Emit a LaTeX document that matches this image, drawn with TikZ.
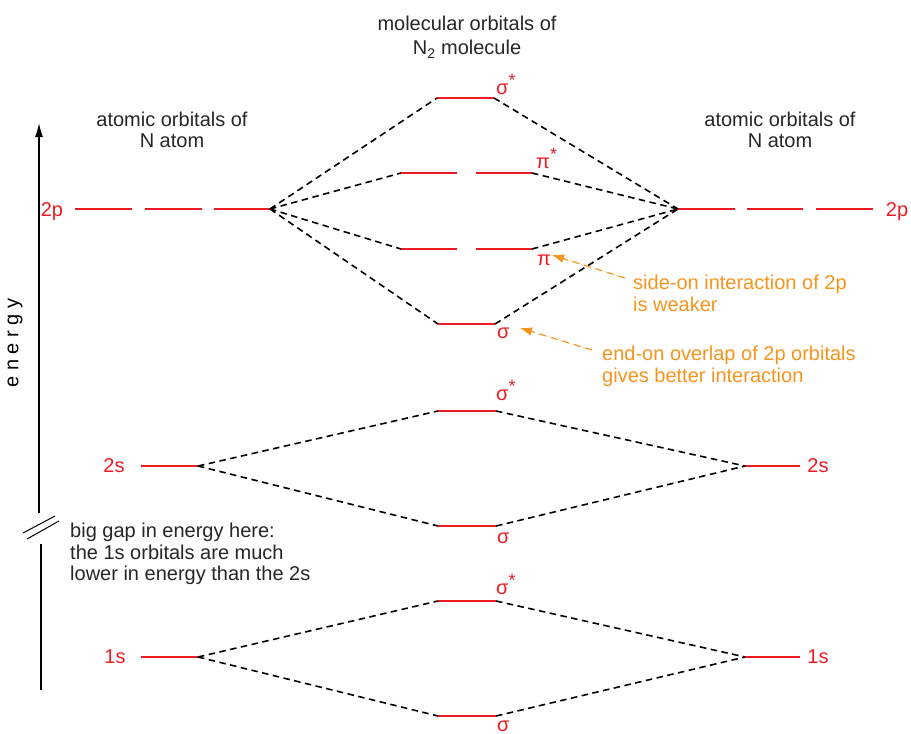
\documentclass[tikz,border=0pt]{standalone}
\usepackage{fontspec}
\setmainfont{Liberation Sans}
\usepackage{tikz}
\usetikzlibrary{arrows.meta}

\definecolor{orbred}{HTML}{ED1C24}
\definecolor{noteorange}{HTML}{F7941D}

\newcommand{\orbstar}{\raisebox{0.38em}{\fontsize{18}{18}\selectfont *}}

\begin{document}
\begin{tikzpicture}[
  x=1pt, y=-1pt,
  font=\fontsize{20}{21.5}\selectfont,
  level/.style={draw=orbred, line width=1.8pt},
  link/.style={draw=black, dash pattern=on 6.5pt off 4.5pt, line width=1.6pt},
  lbl/.style={text=orbred, inner sep=0pt},
  head/.style={align=center, inner sep=0pt, text=black!85},
  note/.style={text=noteorange, align=left, anchor=north west, inner sep=0pt},
  pointer/.style={-{Latex[length=12pt,width=9pt]}, draw=noteorange, fill=noteorange,
    dash pattern=on 7pt off 5pt, line width=1.2pt},
  axis/.style={draw=black, line width=1.3pt}
]
  \useasboundingbox (0,0) rectangle (911,734);

  % headings
  \node[head] (mohead) at (467,37) {molecular orbitals of\\[3pt] N\textsubscript{2} molecule};
  \node[head] (aoleft)  at (172,130) {atomic orbitals of\\N atom};
  \node[head] (aoright) at (780,130) {atomic orbitals of\\N atom};

  % energy axis
  \coordinate (axtop) at (39,123);
  \coordinate (axbrk) at (39,513);
  \coordinate (axlow) at (41,544);
  \coordinate (axbot) at (41,690);
  \draw[axis, -{Latex[length=14pt,width=8pt]}] (axbrk) -- (axtop);
  \draw[axis] (axlow) -- (axbot);
  \draw[axis, line width=1pt] (23,533) -- (55,516);
  \draw[axis, line width=1pt] (27,539) -- (59,521);
  \node[rotate=90, inner sep=0pt] (energy) at (15,343) {e n e r g y};

  % 2p atomic levels
  \coordinate (lp) at (270,209);
  \coordinate (rp) at (678,209);
  \draw[level] (75,209) -- (132,209);
  \draw[level] (145,209) -- (202,209);
  \draw[level] (214,209) -- (lp);
  \draw[level] (rp) -- (735,209);
  \draw[level] (747,209) -- (803,209);
  \draw[level] (816,209) -- (873,209);
  \node[lbl, anchor=base] (l2p) at (52,216) {2p};
  \node[lbl, anchor=base] (r2p) at (897,216) {2p};

  % 2p molecular levels
  \coordinate (ssL) at (437,98);  \coordinate (ssR) at (494,98);
  \coordinate (psL) at (401,173); \coordinate (psR) at (532,173);
  \coordinate (ppL) at (401,249); \coordinate (ppR) at (532,249);
  \coordinate (spL) at (438,324); \coordinate (spR) at (495,324);
  \draw[level] (ssL) -- (ssR);
  \draw[level] (psL) -- (457,173);
  \draw[level] (476,173) -- (psR);
  \draw[level] (ppL) -- (457,249);
  \draw[level] (476,249) -- (ppR);
  \draw[level] (spL) -- (spR);
  \node[lbl, anchor=base west] (ssl) at (496,94)  {σ\orbstar};
  \node[lbl, anchor=base west] (psl) at (536,168) {π\orbstar};
  \node[lbl, anchor=base west] (ppl) at (537,265) {π};
  \node[lbl, anchor=base west] (spl) at (497,338) {σ};

  \draw[link] (lp) -- (ssL);
  \draw[link] (lp) -- (psL);
  \draw[link] (lp) -- (ppL);
  \draw[link] (lp) -- (spL);
  \draw[link] (ssR) -- (rp);
  \draw[link] (psR) -- (rp);
  \draw[link] (ppR) -- (rp);
  \draw[link] (spR) -- (rp);

  % 2s levels
  \coordinate (ls) at (198,466);
  \coordinate (rs) at (745,466);
  \draw[level] (141,466) -- (ls);
  \draw[level] (rs) -- (800,466);
  \node[lbl, anchor=base] (l2s) at (114,472) {2s};
  \node[lbl, anchor=base] (r2s) at (818,472) {2s};
  \coordinate (s2sL) at (438,411); \coordinate (s2sR) at (496,411);
  \coordinate (b2sL) at (438,526); \coordinate (b2sR) at (496,526);
  \draw[level] (s2sL) -- (s2sR);
  \draw[level] (b2sL) -- (b2sR);
  \node[lbl, anchor=base west] (s2sl) at (496,400) {σ\orbstar};
  \node[lbl, anchor=base west] (b2sl) at (497,543) {σ};
  \draw[link] (ls) -- (s2sL);
  \draw[link] (ls) -- (b2sL);
  \draw[link] (s2sR) -- (rs);
  \draw[link] (b2sR) -- (rs);

  % 1s levels
  \coordinate (l1) at (198,657);
  \coordinate (r1) at (745,657);
  \draw[level] (141,657) -- (l1);
  \draw[level] (r1) -- (800,657);
  \node[lbl, anchor=base] (l1s) at (115,663) {1s};
  \node[lbl, anchor=base] (r1s) at (818,663) {1s};
  \coordinate (s1sL) at (438,601); \coordinate (s1sR) at (496,601);
  \coordinate (b1sL) at (438,716); \coordinate (b1sR) at (496,716);
  \draw[level] (s1sL) -- (s1sR);
  \draw[level] (b1sL) -- (b1sR);
  \node[lbl, anchor=base west] (s1sl) at (496,594) {σ\orbstar};
  \node[lbl, anchor=base west] (b1sl) at (497,731) {σ};
  \draw[link] (l1) -- (s1sL);
  \draw[link] (l1) -- (b1sL);
  \draw[link] (s1sR) -- (r1);
  \draw[link] (b1sR) -- (r1);

  % notes
  \node[note] (sidenote) at (633,275) {side-on interaction of 2p\\is weaker};
  \node[note] (endnote)  at (602,346) {end-on overlap of 2p orbitals\\gives better interaction};
  \node[inner sep=0pt, align=left, anchor=north west, text=black!85] (gapnote) at (70,523)
    {big gap in energy here:\\the 1s orbitals are much\\lower in energy than the 2s};
  \coordinate (sidetail) at (625,278);
  \coordinate (pihead) at (552,255);
  \coordinate (endtail) at (592,350);
  \coordinate (sighead) at (520,328);
  \draw[pointer] (sidetail) -- (pihead);
  \draw[pointer] (endtail) -- (sighead);
\end{tikzpicture}
\end{document}
